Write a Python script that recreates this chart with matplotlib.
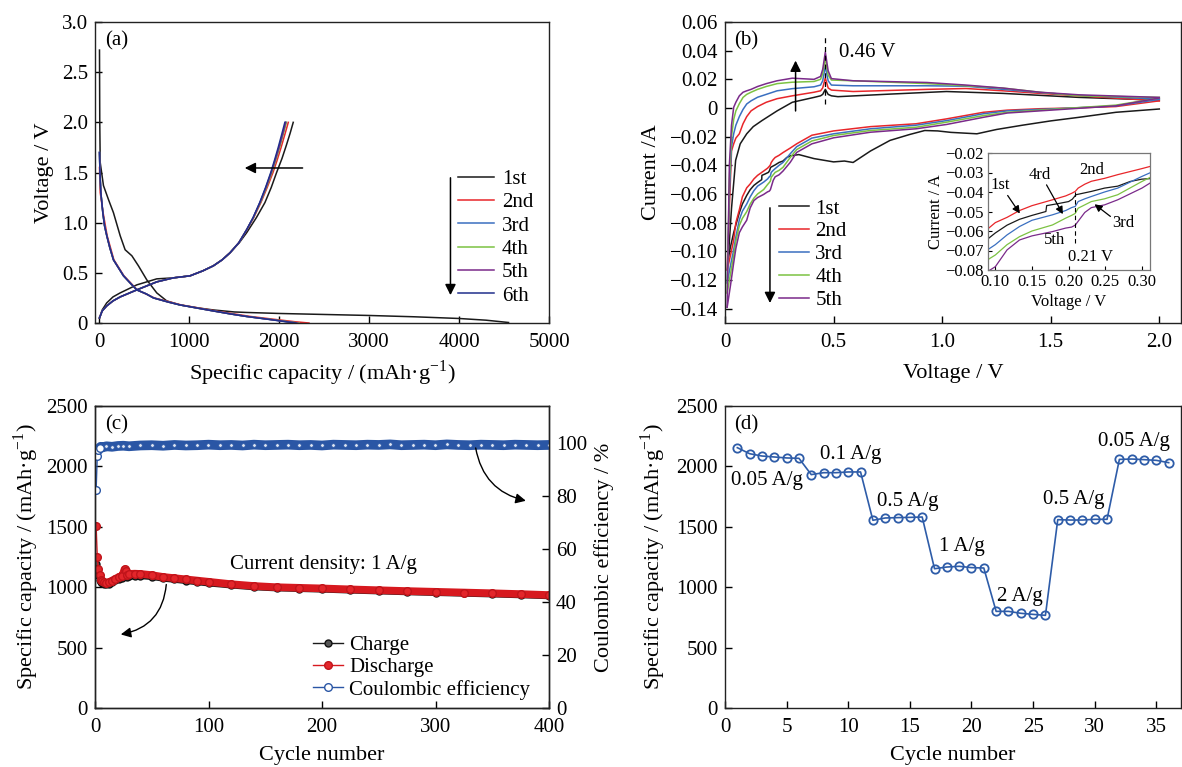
import numpy as np
import matplotlib
matplotlib.use('Agg')
import matplotlib.pyplot as plt

# ---------------- data: panel (a) ----------------
chg1_v = [0.05, 0.13, 0.2, 0.26, 0.3, 0.38, 0.44, 0.45, 0.47, 0.52, 0.57, 0.63, 0.7, 0.8, 0.9,
          1.05, 1.2, 1.35, 1.5, 1.64, 1.77, 1.89, 2.0]
chg1_cap = [0, 30, 80, 150, 230, 415, 637, 822, 1007, 1150, 1267, 1365, 1452, 1555, 1637, 1745,
            1840, 1910, 1970, 2030, 2078, 2120, 2155]
chg_v = [0.05, 0.12, 0.17, 0.22, 0.26, 0.33, 0.41, 0.45, 0.47, 0.52, 0.57, 0.63, 0.7, 0.8, 0.93,
         1.05, 1.2, 1.35, 1.5, 1.62, 1.75, 1.88, 2.0]
chg2_cap = [0, 30, 80, 150, 230, 415, 637, 822, 1007, 1150, 1267, 1365, 1452, 1550, 1640, 1715,
            1795, 1865, 1930, 1975, 2020, 2062, 2100]
chg3_cap = [0, 30, 80, 150, 230, 415, 637, 822, 1007, 1150, 1267, 1365, 1452, 1550, 1637, 1710,
            1785, 1850, 1910, 1952, 1995, 2035, 2070]
chg4_cap = [0, 30, 80, 150, 230, 415, 637, 822, 1007, 1150, 1267, 1365, 1452, 1550, 1637, 1712,
            1790, 1857, 1918, 1960, 2004, 2044, 2080]
chg5_cap = [0, 30, 80, 150, 230, 415, 637, 822, 1007, 1150, 1267, 1365, 1452, 1550, 1637, 1710,
            1786, 1852, 1912, 1954, 1998, 2038, 2072]
chg6_cap = [0, 30, 80, 150, 230, 415, 637, 822, 1007, 1150, 1267, 1365, 1452, 1550, 1637, 1708,
            1782, 1847, 1905, 1946, 1988, 2027, 2062]

dis1_cap = [0, 3, 8, 44, 100, 155, 230, 285, 360, 433, 526, 637, 748, 896, 1100, 1267, 1500,
            1637, 2000, 2500, 3000, 3500, 4000, 4300, 4550]
dis1_v = [2.72, 2.0, 1.6, 1.37, 1.23, 1.1, 0.87, 0.73, 0.67, 0.57, 0.43, 0.3, 0.22, 0.18, 0.15,
          0.13, 0.11, 0.105, 0.095, 0.085, 0.075, 0.062, 0.045, 0.028, 0.005]
dis2_cap = [0, 8, 40, 85, 160, 272, 420, 610, 910, 1290, 1680, 1960, 2180, 2330]
dis2_v = [1.55, 1.3, 1.1, 0.87, 0.63, 0.47, 0.33, 0.25, 0.18, 0.12, 0.065, 0.035, 0.012, 0.0]
dis_v = [1.7, 1.5, 1.3, 1.1, 0.97, 0.87, 0.75, 0.63, 0.47, 0.4, 0.33, 0.29, 0.25, 0.21, 0.18,
         0.15, 0.12, 0.09, 0.065, 0.035, 0.012, 0.0]
dis3_cap = [0, 5, 15, 37, 56, 81, 115, 155, 267, 340, 415, 520, 600, 760, 896, 1080, 1267, 1460,
            1637, 1900, 2090, 2200]
dis4_cap = [0, 5, 15, 37, 56, 81, 115, 155, 267, 340, 415, 520, 600, 760, 896, 1080, 1267, 1460,
            1637, 1910, 2110, 2220]
dis5_cap = [0, 5, 15, 37, 56, 81, 115, 155, 267, 340, 415, 520, 600, 760, 896, 1080, 1267, 1460,
            1637, 1900, 2095, 2205]
dis6_cap = [0, 5, 15, 37, 56, 81, 115, 155, 267, 340, 415, 520, 600, 760, 896, 1080, 1267, 1460,
            1637, 1890, 2080, 2185]

cycle_labels_a = ['1st', '2nd', '3rd', '4th', '5th', '6th']
colors_a = ['#1a1a1a', '#e8262a', '#3a6fc0', '#7cc242', '#7a2a8a', '#202f8c']

# ---------------- data: panel (b) ----------------
cath1_v = [2.0, 1.8, 1.63, 1.5, 1.37, 1.25, 1.16, 1.1, 1.04, 0.98, 0.92, 0.85, 0.76, 0.67, 0.59,
           0.55, 0.5, 0.41, 0.34, 0.3, 0.284, 0.267, 0.249, 0.231, 0.21, 0.205, 0.2, 0.185, 0.17,
           0.169, 0.15, 0.133, 0.116, 0.1, 0.08, 0.066, 0.04, 0.025, 0.015]
cath1_i = [-0.0007, -0.003, -0.0065, -0.009, -0.012, -0.015, -0.018, -0.0175, -0.017, -0.016,
           -0.0157, -0.0185, -0.0226, -0.03, -0.038, -0.037, -0.0376, -0.0353, -0.0325, -0.0334,
           -0.0346, -0.037, -0.038, -0.0397, -0.0414, -0.0437, -0.0449, -0.046, -0.047, -0.050,
           -0.052, -0.054, -0.057, -0.061, -0.067, -0.073, -0.087, -0.097, -0.105]
anod1_v = [0.015, 0.03, 0.049, 0.07, 0.1, 0.13, 0.17, 0.24, 0.31, 0.41, 0.44, 0.45, 0.462, 0.475,
           0.49, 0.52, 0.76, 1.02, 1.28, 1.63, 2.0]
anod1_i = [-0.105, -0.07, -0.0365, -0.025, -0.018, -0.013, -0.0088, -0.002, 0.004, 0.0074,
           0.0085, 0.0095, 0.013, 0.0095, 0.0085, 0.0079, 0.0097, 0.0115, 0.0102, 0.0074, 0.0055]

cath_v = [2.0, 1.8, 1.6, 1.45, 1.3, 1.19, 1.02, 0.88, 0.67, 0.5, 0.4, 0.33, 0.3, 0.267, 0.249,
          0.231, 0.222, 0.213, 0.209, 0.204, 0.196, 0.178, 0.15, 0.133, 0.116, 0.1, 0.08, 0.066,
          0.05, 0.04, 0.025, 0.01]
cath2_i = [0.005, 0.001, 0.0, -0.0005, -0.0015, -0.003, -0.0076, -0.011, -0.013, -0.016, -0.019,
           -0.025, -0.028, -0.0311, -0.033, -0.0345, -0.036, -0.038, -0.0397, -0.0407, -0.042,
           -0.044, -0.047, -0.0495, -0.053, -0.0557, -0.062, -0.071, -0.08, -0.092, -0.103, -0.113]
cath3_i = [0.006, 0.0015, 0.0, -0.001, -0.002, -0.004, -0.0088, -0.012, -0.0145, -0.018, -0.021,
           -0.027, -0.032, -0.038, -0.040, -0.0423, -0.0435, -0.0449, -0.0474, -0.048, -0.0495,
           -0.0517, -0.0545, -0.0577, -0.062, -0.067, -0.072, -0.078, -0.09, -0.099, -0.11, -0.122]
cath4_i = [0.007, 0.002, 0.0, -0.0015, -0.003, -0.0053, -0.0099, -0.0134, -0.0157, -0.0192, -0.023,
           -0.029, -0.0346, -0.0414, -0.0435, -0.0449, -0.0466, -0.0483, -0.051, -0.052, -0.0534,
           -0.0569, -0.060, -0.0629, -0.067, -0.0723, -0.077, -0.082, -0.093, -0.103, -0.116, -0.129]
cath5_i = [0.007, 0.0015, -0.0005, -0.002, -0.0035, -0.0065, -0.0115, -0.0145, -0.0169, -0.0208,
           -0.025, -0.031, -0.038, -0.044, -0.0466, -0.048, -0.0505, -0.055, -0.057, -0.058,
           -0.0585, -0.0603, -0.0625, -0.0646, -0.0697, -0.0783, -0.083, -0.087, -0.098, -0.108,
           -0.124, -0.139]

anod_v = [0.01, 0.02, 0.03, 0.04, 0.05, 0.066, 0.083, 0.1, 0.12, 0.15, 0.19, 0.24, 0.31, 0.41, 0.44,
          0.45, 0.462, 0.475, 0.49, 0.59, 0.93, 1.11, 1.28, 1.45, 1.63, 2.0]
anod2_i = [-0.113, -0.07, -0.03, -0.025, -0.021, -0.018, -0.011, -0.006, -0.002, 0.001, 0.004,
           0.0065, 0.0085, 0.011, 0.012, 0.014, 0.021, 0.014, 0.0125, 0.0115, 0.013, 0.0136, 0.012,
           0.0102, 0.0085, 0.005]
anod3_i = [-0.122, -0.06, -0.027, -0.018, -0.012, -0.006, -0.001, 0.0028, 0.005, 0.0075, 0.0095,
           0.012, 0.0135, 0.0148, 0.016, 0.019, 0.029, 0.019, 0.016, 0.0155, 0.0155, 0.0152, 0.013,
           0.0108, 0.0088, 0.0062]
anod4_i = [-0.129, -0.05, -0.02, -0.008, -0.002, 0.003, 0.0074, 0.0095, 0.011, 0.013, 0.015, 0.017,
           0.018, 0.0185, 0.02, 0.024, 0.035, 0.023, 0.0195, 0.019, 0.017, 0.0155, 0.0139, 0.011,
           0.0085, 0.0074]
anod5_i = [-0.139, -0.04, -0.012, 0.0005, 0.004, 0.0085, 0.011, 0.012, 0.013, 0.015, 0.017, 0.019,
           0.0208, 0.02, 0.022, 0.027, 0.039, 0.026, 0.0205, 0.019, 0.0178, 0.016, 0.0139, 0.011,
           0.0092, 0.0074]
colors_b = ['#1a1a1a', '#e8262a', '#3a6fc0', '#7cc242', '#7a2a8a']
cycle_labels_b = ['1st', '2nd', '3rd', '4th', '5th']
peak_v = 0.46
inset_v = 0.209

# ---------------- data: panel (c) ----------------
cyc_c = [1, 2, 3, 4, 5, 6, 8, 10, 12, 15, 18, 21, 24, 26, 27, 28, 30, 35, 40, 50, 60, 70, 80, 90,
         100, 120, 140, 160, 180, 200, 225, 250, 275, 300, 325, 350, 375, 400]
dis_c = [1504, 1250, 1150, 1100, 1060, 1050, 1040, 1035, 1040, 1055, 1070, 1085, 1095, 1148, 1130,
         1105, 1110, 1112, 1110, 1100, 1085, 1075, 1065, 1055, 1045, 1025, 1010, 1000, 995, 990,
         982, 975, 968, 962, 956, 950, 943, 935]
chg_c = [1195, 1150, 1100, 1060, 1045, 1035, 1028, 1025, 1030, 1045, 1060, 1072, 1080, 1100, 1095,
         1085, 1090, 1095, 1095, 1088, 1075, 1065, 1055, 1045, 1035, 1018, 1003, 994, 989, 984,
         976, 969, 962, 956, 950, 944, 937, 929]
cyc_ce = [1, 2, 3, 4, 5, 7, 10, 15, 20, 25, 30, 40, 50, 60, 70, 80, 90, 100, 110, 120, 130, 140,
          150, 160, 170, 180, 190, 200, 210, 220, 230, 240, 250, 260, 270, 280, 290, 300, 310, 320,
          330, 340, 350, 360, 370, 380, 390, 400]
ce = [82.4, 95.3, 97.5, 98.2, 98.6, 98.4, 98.8, 98.6, 98.9, 99.0, 98.8, 99.1, 99.2, 99.0, 99.3,
      99.1, 99.2, 99.4, 99.2, 99.3, 99.1, 99.4, 99.2, 99.3, 99.4, 99.2, 99.3, 99.1, 99.4, 99.3,
      99.2, 99.4, 99.3, 99.5, 99.2, 99.3, 99.4, 99.2, 99.5, 99.3, 99.2, 99.4, 99.3, 99.2, 99.4,
      99.3, 99.2, 99.3]

# ---------------- data: panel (d) ----------------
cyc_d = list(range(1, 37))
cap_d = [2155, 2105, 2086, 2078, 2070, 2067, 1932, 1948, 1948, 1954, 1954, 1554, 1573, 1576, 1578,
         1581, 1153, 1167, 1173, 1162, 1159, 800, 800, 784, 775, 767, 1559, 1556, 1556, 1562, 1562,
         2058, 2061, 2056, 2050, 2031]
rate_labels = ['0.05 A/g', '0.1 A/g', '0.5 A/g', '1 A/g', '2 A/g', '0.5 A/g', '0.05 A/g']
rate_label_x = [3.4, 10.2, 14.8, 19.25, 23.9, 28.3, 33.2]
rate_label_y = [1887, 2100, 1708, 1341, 921, 1722, 2205]

# ---------------- style ----------------
plt.rcParams['font.family'] = ['Liberation Serif', 'DejaVu Serif']
plt.rcParams['mathtext.fontset'] = 'stix'
plt.rcParams['xtick.direction'] = 'in'
plt.rcParams['ytick.direction'] = 'in'
FS = 15
LFS = 16
W, H = 1182, 767
fig = plt.figure(figsize=(W / 100, H / 100), dpi=100)


def box(l, t, r, b):
    return [l / W, 1 - b / H, (r - l) / W, (b - t) / H]


def style(ax, fs=FS):
    for s in ax.spines.values():
        s.set_linewidth(1.0)
        s.set_color('#222222')
    ax.tick_params(labelsize=fs, length=5, width=1.0, pad=5, top=False, right=False)
    ax.tick_params(axis='x', pad=7)


cap_label = 'Specific capacity / (mAh·g$^{\\mathregular{-1}}$)'
arr = dict(arrowstyle='-|>', color='k', lw=1.1, mutation_scale=16)

# ---------------- panel (a) ----------------
axA = fig.add_axes(box(95, 22, 549, 323))
style(axA)
chg_caps = [chg1_cap, chg2_cap, chg3_cap, chg4_cap, chg5_cap, chg6_cap]
chg_vs = [chg1_v, chg_v, chg_v, chg_v, chg_v, chg_v]
dis_caps = [dis1_cap, dis2_cap, dis3_cap, dis4_cap, dis5_cap, dis6_cap]
dis_vs = [dis1_v, dis2_v, dis_v, dis_v, dis_v, dis_v]
for k in range(6):
    axA.plot(chg_caps[k], chg_vs[k], color=colors_a[k], lw=1.1)
    axA.plot(dis_caps[k], dis_vs[k], color=colors_a[k], lw=1.1, label=cycle_labels_a[k])
axA.set_xlim(-50, 5000)
axA.set_ylim(0, 3.0)
axA.set_xticks([0, 1000, 2000, 3000, 4000, 5000])
axA.set_yticks([0, 0.5, 1.0, 1.5, 2.0, 2.5, 3.0])
axA.set_yticklabels(['0', '0.5', '1.0', '1.5', '2.0', '2.5', '3.0'])
axA.set_xlabel(cap_label, fontsize=LFS, labelpad=5)
axA.set_ylabel('Voltage / V', fontsize=LFS, labelpad=6)
axA.text(0.023, 0.938, '(a)', transform=axA.transAxes, fontsize=FS, va='center', ha='left')
axA.legend(loc='upper left', bbox_to_anchor=(0.7996, 0.51), frameon=False, fontsize=FS,
           borderpad=0, borderaxespad=0, handlelength=1.75, handletextpad=0.35, labelspacing=0.18)
axA.annotate('', xy=(1585, 1.545), xytext=(2290, 1.545), arrowprops=arr)
axA.annotate('', xy=(3904, 0.25), xytext=(3904, 1.475), arrowprops=arr)

# ---------------- panel (b) ----------------
axB = fig.add_axes(box(725, 22, 1181, 323))
style(axB)
cath_is = [cath1_i, cath2_i, cath3_i, cath4_i, cath5_i]
cath_vs = [cath1_v, cath_v, cath_v, cath_v, cath_v]
anod_is = [anod1_i, anod2_i, anod3_i, anod4_i, anod5_i]
anod_vs = [anod1_v, anod_v, anod_v, anod_v, anod_v]
for k in range(5):
    axB.plot(cath_vs[k], cath_is[k], color=colors_b[k], lw=1.1, label=cycle_labels_b[k])
    axB.plot(anod_vs[k], anod_is[k], color=colors_b[k], lw=1.1)
axB.set_xlim(0, 2.1)
axB.set_ylim(-0.15, 0.06)
axB.set_xticks([0, 0.5, 1.0, 1.5, 2.0])
axB.set_xticklabels(['0', '0.5', '1.0', '1.5', '2.0'])
axB.set_yticks(np.arange(-0.14, 0.061, 0.02))
axB.set_yticklabels(['\u22120.14', '\u22120.12', '\u22120.10', '\u22120.08', '\u22120.06',
                     '\u22120.04', '\u22120.02', '0', '0.02', '0.04', '0.06'])
axB.set_xlabel('Voltage / V', fontsize=LFS, labelpad=9)
axB.set_ylabel('Current /A', fontsize=LFS, labelpad=6)
axB.text(0.019, 0.938, '(b)', transform=axB.transAxes, fontsize=FS, va='center', ha='left')
axB.text(0.524, 0.039, '0.46 V', fontsize=FS, va='center', ha='left')
axB.axvline(peak_v, ymin=0.7286, ymax=0.959, color='k', lw=0.9, ls=(0, (4, 3)))
axB.legend(loc='upper left', bbox_to_anchor=(0.118, 0.412), frameon=False, fontsize=FS,
           borderpad=0, borderaxespad=0, handlelength=1.45, handletextpad=0.3, labelspacing=0.155)
axB.annotate('', xy=(0.325, 0.035), xytext=(0.325, -0.004), arrowprops=arr)
axB.annotate('', xy=(0.207, -0.138), xytext=(0.207, -0.0677), arrowprops=arr)

# inset
axI = fig.add_axes(box(988, 153, 1150, 270))
for s in axI.spines.values():
    s.set_linewidth(0.9)
    s.set_color('#777777')
ifs = 12
axI.tick_params(labelsize=ifs, length=3, width=0.8, pad=3)
for k in range(5):
    axI.plot(cath_vs[k], cath_is[k], color=colors_b[k], lw=0.9)
axI.set_xlim(0.09, 0.311)
axI.set_ylim(-0.08, -0.02)
axI.set_xticks([0.10, 0.15, 0.20, 0.25, 0.30])
axI.set_xticklabels(['0.10', '0.15', '0.20', '0.25', '0.30'])
axI.set_yticks([-0.08, -0.07, -0.06, -0.05, -0.04, -0.03, -0.02])
axI.set_yticklabels(['\u22120.08', '\u22120.07', '\u22120.06', '\u22120.05', '\u22120.04',
                     '\u22120.03', '\u22120.02'])
axI.set_xlabel('Voltage / V', fontsize=ifs, labelpad=3)
axI.set_ylabel('Current / A', fontsize=ifs, labelpad=1)
axI.axvline(inset_v, ymin=0.228, ymax=0.692, color='k', lw=0.8, ls=(0, (4, 3)))
axI.text(0.1067, -0.0366, '1st', fontsize=ifs, ha='center', va='center')
axI.text(0.161, -0.0311, '4rd', fontsize=ifs, ha='center', va='center')
axI.text(0.232, -0.0286, '2nd', fontsize=ifs, ha='center', va='center')
axI.text(0.274, -0.056, '3rd', fontsize=ifs, ha='center', va='center')
axI.text(0.181, -0.0646, '5th', fontsize=ifs, ha='center', va='center')
axI.text(0.23, -0.0732, '0.21 V', fontsize=ifs, ha='center', va='center')
ap = dict(arrowstyle='-|>', color='k', lw=0.9, mutation_scale=11)
axI.annotate('', xy=(0.1356, -0.0522), xytext=(0.1147, -0.0406), arrowprops=ap)
axI.annotate('', xy=(0.194, -0.0526), xytext=(0.168, -0.0351), arrowprops=ap)
axI.annotate('', xy=(0.2324, -0.0454), xytext=(0.26, -0.0534), arrowprops=ap)

# ---------------- panel (c) ----------------
axC = fig.add_axes(box(95, 406, 549, 708))
style(axC)
axC2 = axC.twinx()
style(axC2)
axC2.tick_params(right=True, left=False, labelright=True, labelleft=False)
axC.plot(cyc_c[4:], chg_c[4:], color='#1a1a1a', lw=5, solid_capstyle='round')
lc, = axC.plot(cyc_c, chg_c, color='#1a1a1a', lw=1.0, marker='o', ms=5, mfc='#555555',
               mec='#111111', mew=1.0, label='Charge')
axC.plot(cyc_c[4:], dis_c[4:], color='#d7191f', lw=5.5, solid_capstyle='round')
ld, = axC.plot(cyc_c, dis_c, color='#d7191f', lw=1.0, marker='o', ms=5.5, mfc='#e3262b',
               mec='#c0141a', mew=1.0, label='Discharge')
axC2.plot(cyc_ce[3:], ce[3:], color='#2a56a5', lw=7, solid_capstyle='round')
axC2.plot(cyc_ce[3:], ce[3:], ls='none', marker='o', ms=2.6, mfc='#dfe6f3', mec='#2a56a5',
          mew=0.5)
le, = axC2.plot(cyc_ce[:4], ce[:4], color='#2a56a5', lw=1.0, marker='o', ms=5.5, mfc='white',
                mec='#2a56a5', mew=1.0, label='Coulombic efficiency')
axC.set_xlim(0, 400)
axC.set_ylim(0, 2500)
axC2.set_ylim(0, 114)
axC.set_xticks([0, 100, 200, 300, 400])
axC.set_yticks([0, 500, 1000, 1500, 2000, 2500])
axC2.set_yticks([0, 20, 40, 60, 80, 100])
axC.set_xlabel('Cycle number', fontsize=LFS, labelpad=7)
axC.set_ylabel(cap_label, fontsize=LFS, labelpad=4)
axC2.set_ylabel('Coulombic efficiency / %', fontsize=LFS, labelpad=5)
axC.text(0.023, 0.938, '(c)', transform=axC.transAxes, fontsize=FS, va='center', ha='left')
axC.text(201.7, 1184, 'Current density: 1 A/g', fontsize=FS, ha='center', va='center')
h = [lc, ld, le]
axC2.legend(h, [x.get_label() for x in h], loc='upper left', bbox_to_anchor=(0.480, 0.24),
            frameon=False, fontsize=FS, borderpad=0, borderaxespad=0, handlelength=1.45,
            handletextpad=0.3, labelspacing=0.12)
axC.annotate('', xy=(20.3, 605), xytext=(63, 1045),
             arrowprops=dict(arrowstyle='-|>', color='k', lw=1.0, mutation_scale=15,
                             connectionstyle='arc3,rad=-0.4'))
axC2.annotate('', xy=(382, 78), xytext=(335, 99.2),
              arrowprops=dict(arrowstyle='-|>', color='k', lw=1.0, mutation_scale=15,
                              connectionstyle='arc3,rad=0.35'))

# ---------------- panel (d) ----------------
axD = fig.add_axes(box(725, 406, 1181, 708))
style(axD)
axD.plot(cyc_d, cap_d, color='#2e5ca8', lw=1.2, marker='o', ms=6, mfc='none', mec='#2e5ca8',
         mew=1.3)
axD.set_xlim(0, 37)
axD.set_ylim(0, 2500)
axD.set_xticks([0, 5, 10, 15, 20, 25, 30, 35])
axD.set_yticks([0, 500, 1000, 1500, 2000, 2500])
axD.set_xlabel('Cycle number', fontsize=LFS, labelpad=7)
axD.set_ylabel(cap_label, fontsize=LFS, labelpad=6)
axD.text(0.019, 0.938, '(d)', transform=axD.transAxes, fontsize=FS, va='center', ha='left')
for lbl, x, y in zip(rate_labels, rate_label_x, rate_label_y):
    axD.text(x, y, lbl, fontsize=FS, ha='center', va='center')

fig.savefig('out.png', dpi=100)
